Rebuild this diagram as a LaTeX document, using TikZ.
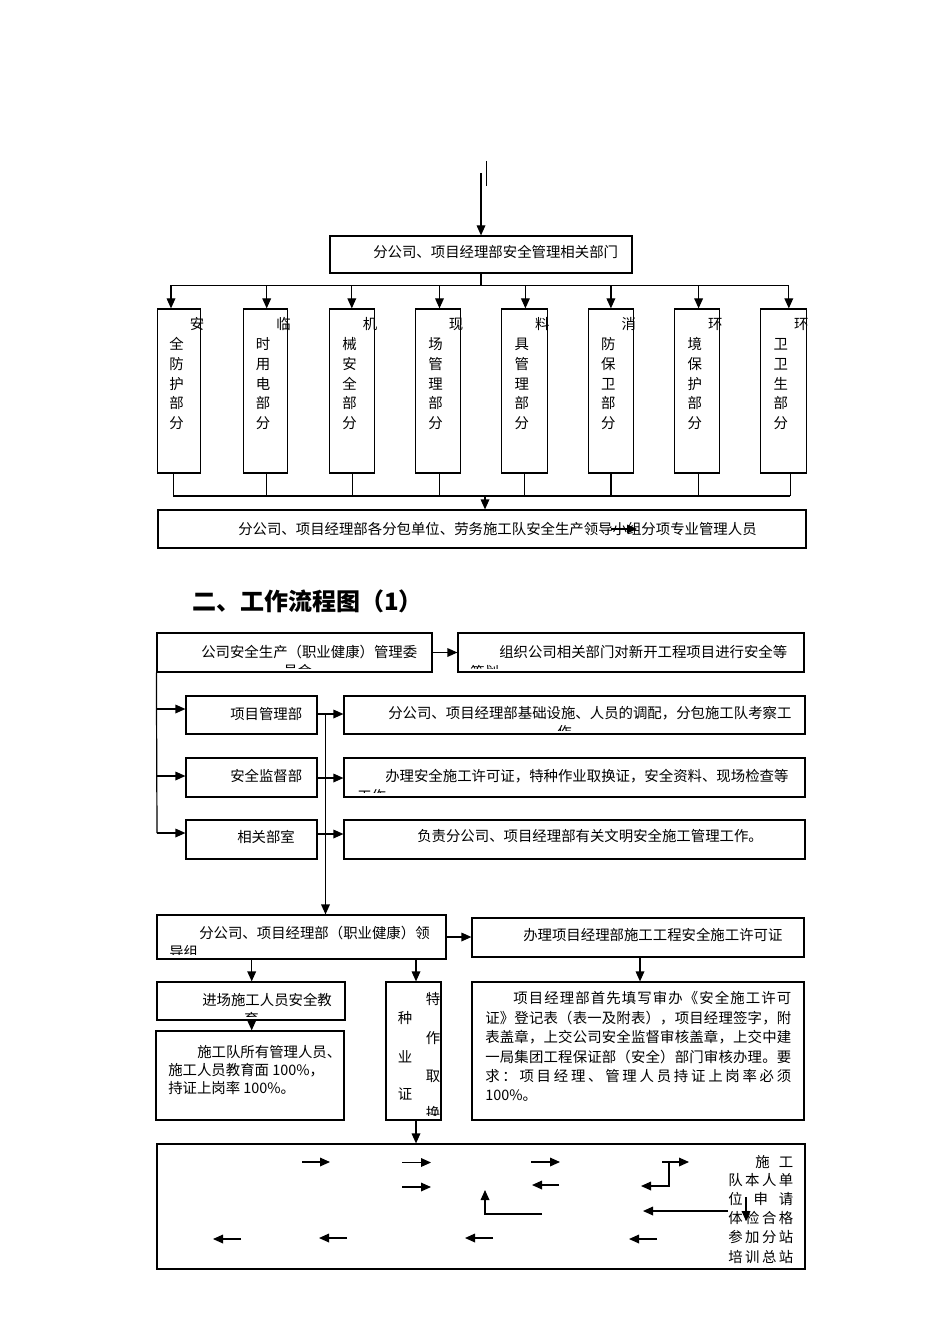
\documentclass[tikz,border=0pt]{standalone}
\usepackage{fontspec}
\setmainfont{Noto Sans CJK SC}
\usetikzlibrary{arrows.meta,fit,calc}
\def\jfirst#1{#1\jrest}
\def\jrest#1{\ifx\relax#1\else\hfill#1\expandafter\jrest\fi}
\newcommand\jline[2]{\makebox[#1][s]{\jfirst#2\relax}}
\tikzset{
  ln/.style={line width=0.9pt, draw=black},
  arr/.style={ln, -{Triangle[length=7.5pt,width=6.5pt]}},
  bx/.style={draw=black, line width=0.9pt, inner sep=0pt},
  txt/.style={inner sep=0pt, font=\fontsize{10.8}{14}\selectfont},
  head/.style={inner sep=0pt, font=\fontsize{18}{21}\selectfont\bfseries},
}
\newcommand\vbx[6]{% name, left, right, top char, column chars, connector x
  \node[bx, fit={(#2,309)(#3,473)}] (#1) {};
  \node[txt, anchor=base] (#1t) at ($(#1.north)+(18,21.5)$) {#4};
  \foreach \c [count=\i from 0] in {#5} {
    \node[txt, anchor=base] (#1c\i) at ($(#1.north)+(-2.5,41.5+19.6*\i)$) {\c};
  }
  \coordinate (#1x) at (#6,0);
}
\begin{document}
\begin{tikzpicture}[x=0.75pt, y=-0.75pt]
\fill[white] (0,0) rectangle (950,1344);
\useasboundingbox (0,0) rectangle (950,1344);

% ---------- top part ----------
\node[bx, fit={(330,236)(632,273)}] (b0) {};
\node[txt, anchor=base west] (b0t) at (373,257.5) {分公司、项目经理部安全管理相关部门};
\coordinate (t0) at (481,173);
\draw[arr] (t0) -- (b0.north);
\coordinate (s1) at (486.5,161);
\coordinate (s2) at (486.5,186);
\draw[ln] (s1) -- (s2);
\coordinate (hb) at (481,285.5);
\draw[ln] (b0.south) -- (hb);
\coordinate (hl) at (171,285.5);
\coordinate (hr) at (789,285.5);
\draw[ln] (hl) -- (hr);

\vbx{v1}{157.4}{200.8}{安}{全,防,护,部,分}{173.4}
\vbx{v2}{243.3}{287.6}{临}{时,用,电,部,分}{266.7}
\vbx{v3}{329.7}{374.4}{机}{械,安,全,部,分}{352.7}
\vbx{v4}{415.6}{460.3}{现}{场,管,理,部,分}{439.5}
\vbx{v5}{501.5}{547.1}{料}{具,管,理,部,分}{524.5}
\vbx{v6}{588.3}{633.5}{消}{防,保,卫,部,分}{610.9}
\vbx{v7}{674.7}{719.8}{环}{境,保,护,部,分}{698.6}
\vbx{v8}{760.6}{806.2}{环}{卫,卫,生,部,分}{790.1}

\foreach \x [count=\i] in {171,266.7,351.8,439.5,525.4,610.9,698.6,788.8} {
  \coordinate (a\i) at (\x,285.5);
  \draw[arr] (a\i) -- (a\i |- v\i.north);
}
\coordinate (cy) at (0,496);
\foreach \i in {1,...,8} {
  \draw[ln] (v\i x |- v\i.south) -- (v\i x |- cy);
}
\draw[ln] (v1x |- cy) -- (v8x |- cy);

\node[bx, fit={(158,510)(806,548)}] (b9) {};
\node[txt, anchor=base west] (b9t) at (238,534.5) {分公司、项目经理部各分包单位、劳务施工队安全生产领导小组分项专业管理人员};
\coordinate (bb) at (485,496);
\draw[arr] (bb) -- (bb |- b9.north);
\coordinate (ia1) at (611,529);
\coordinate (ia2) at (637,529);
\draw[arr] (ia1) -- (ia2);

% ---------- heading ----------
\node[head, anchor=base west] (hd) at (192,610) {二、工作流程图（1）};

% ---------- flow chart ----------
\node[bx, fit={(157,633)(432,672)}] (sA) {};
\node[txt, anchor=base west] (sAt) at (201,657) {公司安全生产（职业健康）管理委};
\begin{scope}
  \clip (158,634) rectangle (431,668);
  \node[txt, anchor=base west] (sAt2) at (283,676) {员会};
\end{scope}

\node[bx, fit={(458,633)(804,672)}] (sB) {};
\node[txt, anchor=base west] (sBt) at (499,657) {组织公司相关部门对新开工程项目进行安全等};
\begin{scope}
  \clip (459,634) rectangle (803,668);
  \node[txt, anchor=base west] (sBt2) at (470,677) {策划};
\end{scope}
\draw[arr] (sA.east) -- (sB.west);

\node[bx, fit={(186,696)(317,734)}] (C1) {};
\node[bx, fit={(186,758)(317,797)}] (C2) {};
\node[bx, fit={(186,820)(317,859)}] (C3) {};
\node[txt, anchor=base west] (C1t) at (230,719.5) {项目管理部};
\node[txt, anchor=base west] (C2t) at (230,781.5) {安全监督部};
\node[txt, anchor=base west] (C3t) at (237,842.5) {相关部室};

\node[bx, fit={(344,696)(805,734)}] (D1) {};
\node[bx, fit={(344,758)(805,797)}] (D2) {};
\node[bx, fit={(344,820)(805,859)}] (D3) {};
\node[txt, anchor=base west] (D1t) at (388,718.5) {分公司、项目经理部基础设施、人员的调配，分包施工队考察工};
\begin{scope}
  \clip (345,697) rectangle (804,730);
  \node[txt, anchor=base west] (D1t2) at (557,737.5) {作};
\end{scope}
\node[txt, anchor=base west] (D2t) at (385,781) {办理安全施工许可证，特种作业取换证，安全资料、现场检查等};
\begin{scope}
  \clip (345,759) rectangle (804,792);
  \node[txt, anchor=base west] (D2t2) at (357,801) {工作};
\end{scope}
\node[txt, anchor=base west] (D3t) at (417,841.5) {负责分公司、项目经理部有关文明安全施工管理工作。};

\coordinate (k1) at (157,709);
\coordinate (k2) at (157,776);
\coordinate (k3) at (157,833);
\draw[ln] (sA.south west) -- (k3);
\draw[arr] (k1) -- (k1 -| C1.west);
\draw[arr] (k2) -- (k2 -| C2.west);
\draw[arr] (k3) -- (k3 -| C3.west);

\coordinate (m1) at (317,714);
\coordinate (m2) at (317,778);
\coordinate (m3) at (317,834);
\draw[arr] (m1) -- (m1 -| D1.west);
\draw[arr] (m2) -- (m2 -| D2.west);
\draw[arr] (m3) -- (m3 -| D3.west);

\node[bx, fit={(157,915)(446,959)}] (E) {};
\node[txt, anchor=base west] (Et) at (199,938.5) {分公司、项目经理部（职业健康）领};
\begin{scope}
  \clip (158,916) rectangle (445,954);
  \node[txt, anchor=base west] (Et2) at (169,957.5) {导组};
\end{scope}
\coordinate (vt) at (325.5,714);
\draw[arr] (vt) -- (vt |- E.north);

\node[bx, fit={(472,918)(804,957)}] (F) {};
\node[txt, anchor=base west] (Ft) at (523,940.5) {办理项目经理部施工工程安全施工许可证};
\draw[arr] (E.east) -- (E.east -| F.west);

\node[bx, fit={(157,982)(345,1020)}] (G) {};
\node[txt, anchor=base west] (Gt) at (202,1005.5) {进场施工人员安全教};
\begin{scope}
  \clip (158,983) rectangle (344,1016);
  \node[txt, anchor=base west] (Gt2) at (244,1024.5) {育};
\end{scope}

\node[bx, fit={(156,1031)(344,1120)}] (H) {};
\node[txt, anchor=base west] (Ht1) at (197,1057.5) {施工队所有管理人员、};
\node[txt, anchor=base west] (Ht2) at (168,1075.5) {施工人员教育面 100\%，};
\node[txt, anchor=base west] (Ht3) at (168,1093.5) {持证上岗率 100\%。};

\node[bx, fit={(386,982)(441,1120)}] (I) {};
\node[txt, anchor=base] (Ic1) at (433,1004.5) {特};
\node[txt, anchor=base] (Ic2) at (405,1023.5) {种};
\node[txt, anchor=base] (Ic3) at (433,1043.5) {作};
\node[txt, anchor=base] (Ic4) at (405,1062.5) {业};
\node[txt, anchor=base] (Ic5) at (433,1081.5) {取};
\node[txt, anchor=base] (Ic6) at (405,1099.5) {证};
\begin{scope}
  \clip (387,983) rectangle (440,1115);
  \node[txt, anchor=base] (Ic7) at (433,1118) {换};
\end{scope}

\node[bx, fit={(472,982)(804,1120)}] (K) {};
\node[txt, anchor=base west] (Kt1) at (513,1003.5) {\jline{208.5pt}{项目经理部首先填写审办《安全施工许可}};
\node[txt, anchor=base west] (Kt2) at (485,1023) {\jline{229.5pt}{证》登记表（表一及附表），项目经理签字，附}};
\node[txt, anchor=base west] (Kt3) at (485,1042.5) {\jline{229.5pt}{表盖章，上交公司安全监督审核盖章，上交中建}};
\node[txt, anchor=base west] (Kt4) at (485,1062) {\jline{229.5pt}{一局集团工程保证部（安全）部门审核办理。要}};
\node[txt, anchor=base west] (Kt5) at (485,1081.5) {\jline{229.5pt}{求：项目经理、管理人员持证上岗率必须}};
\node[txt, anchor=base west] (Kt6) at (485,1100.5) {100\%。};

\coordinate (xg) at (251.7,0);
\coordinate (xi) at (416,0);
\coordinate (xk) at (640,0);
\draw[arr] (E.south -| xg) -- (G.north -| xg);
\draw[arr] (G.south -| xg) -- (H.north -| xg);
\draw[arr] (E.south -| xi) -- (I.north -| xi);
\draw[arr] (F.south -| xk) -- (K.north -| xk);

\node[bx, fit={(157,1144)(805,1269)}] (J) {};
\draw[arr] (I.south -| xi) -- (J.north -| xi);

\node[txt, anchor=base west] (Jt1) at (755,1167.5) {\jline{28.5pt}{施工}};
\node[txt, anchor=base west] (Jt2) at (728,1185.5) {\jline{48.75pt}{队本人单}};
\node[txt, anchor=base west] (Jt3) at (728,1204.5) {\jline{48.75pt}{位申请}};
\node[txt, anchor=base west] (Jt4) at (728,1223.5) {\jline{48.75pt}{体检合格}};
\node[txt, anchor=base west] (Jt5) at (728,1242.5) {\jline{48.75pt}{参加分站}};
\node[txt, anchor=base west] (Jt6) at (728,1262.5) {\jline{48.75pt}{培训总站}};

% arrows inside the bottom box
\coordinate (r1a) at (302,1162);  \coordinate (r1b) at (330,1162);
\coordinate (r2a) at (402,1162.5);\coordinate (r2b) at (431,1162.5);
\coordinate (r3a) at (531,1162);  \coordinate (r3b) at (560,1162);
\coordinate (q0) at (662,1162);   \coordinate (q1) at (669,1162);
\coordinate (q2) at (689,1162);   \coordinate (q3) at (669,1186);
\coordinate (q4) at (641,1186);
\coordinate (r4a) at (402,1187);  \coordinate (r4b) at (431,1187);
\coordinate (r5a) at (559,1185);  \coordinate (r5b) at (532,1185);
\coordinate (p1) at (542,1214);   \coordinate (p2) at (485,1214);
\coordinate (p3) at (485,1190);
\coordinate (r6a) at (728,1211);  \coordinate (r6b) at (643,1211);
\coordinate (r7a) at (746,1197);  \coordinate (r7b) at (746,1221);
\coordinate (l1a) at (241,1239);  \coordinate (l1b) at (213,1239);
\coordinate (l2a) at (347,1238);  \coordinate (l2b) at (319,1238);
\coordinate (l3a) at (493,1238);  \coordinate (l3b) at (465,1238);
\coordinate (l4a) at (657,1239);  \coordinate (l4b) at (629,1239);
\draw[arr] (r1a) -- (r1b);
\draw[arr] (r2a) -- (r2b);
\draw[arr] (r3a) -- (r3b);
\draw[arr] (q0) -- (q2);
\draw[arr] (q1) -- (q3) -- (q4);
\draw[arr] (r4a) -- (r4b);
\draw[arr] (r5a) -- (r5b);
\draw[arr] (p1) -- (p2) -- (p3);
\draw[arr] (r6a) -- (r6b);
\draw[arr] (r7a) -- (r7b);
\draw[arr] (l1a) -- (l1b);
\draw[arr] (l2a) -- (l2b);
\draw[arr] (l3a) -- (l3b);
\draw[arr] (l4a) -- (l4b);
\end{tikzpicture}
\end{document}
